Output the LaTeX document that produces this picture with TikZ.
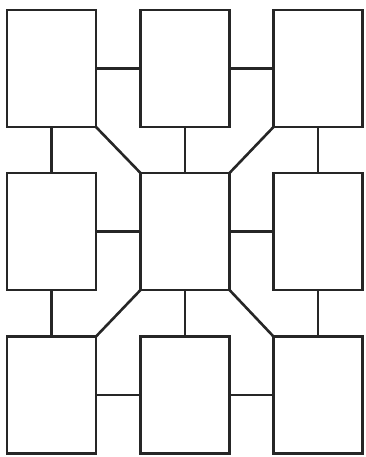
\documentclass[tikz,border=0pt]{standalone}
\begin{document}
\begin{tikzpicture}[x=1pt,y=1pt,
  room/.style={draw=black!85, line width=2.6pt, minimum width=89pt, minimum height=117pt, inner sep=0pt, outer sep=0pt, fill=white},
  link/.style={draw=black!85, line width=2.6pt}]
\useasboundingbox (0,0) rectangle (365,457);
\node[room] (tl) at (51.5,388.5) {};
\node[room] (tm) at (185,388.5) {};
\node[room] (tr) at (318,388.5) {};
\node[room] (ml) at (51.5,225.5) {};
\node[room] (c)  at (185,225.5) {};
\node[room] (mr) at (318,225.5) {};
\node[room] (bl) at (51.5,62) {};
\node[room] (bm) at (185,62) {};
\node[room] (br) at (318,62) {};
\draw[link] (tl.east) -- (tm.west);
\draw[link] (tm.east) -- (tr.west);
\draw[link] (ml.east) -- (c.west);
\draw[link] (c.east) -- (mr.west);
\draw[link] (bl.east) -- (bm.west);
\draw[link] (bm.east) -- (br.west);
\draw[link] (tl.south) -- (ml.north);
\draw[link] (ml.south) -- (bl.north);
\draw[link] (tm.south) -- (c.north);
\draw[link] (c.south) -- (bm.north);
\draw[link] (tr.south) -- (mr.north);
\draw[link] (mr.south) -- (br.north);
\draw[link] (tl.south east) -- (c.north west);
\draw[link] (tr.south west) -- (c.north east);
\draw[link] (bl.north east) -- (c.south west);
\draw[link] (br.north west) -- (c.south east);
\end{tikzpicture}
\end{document}
